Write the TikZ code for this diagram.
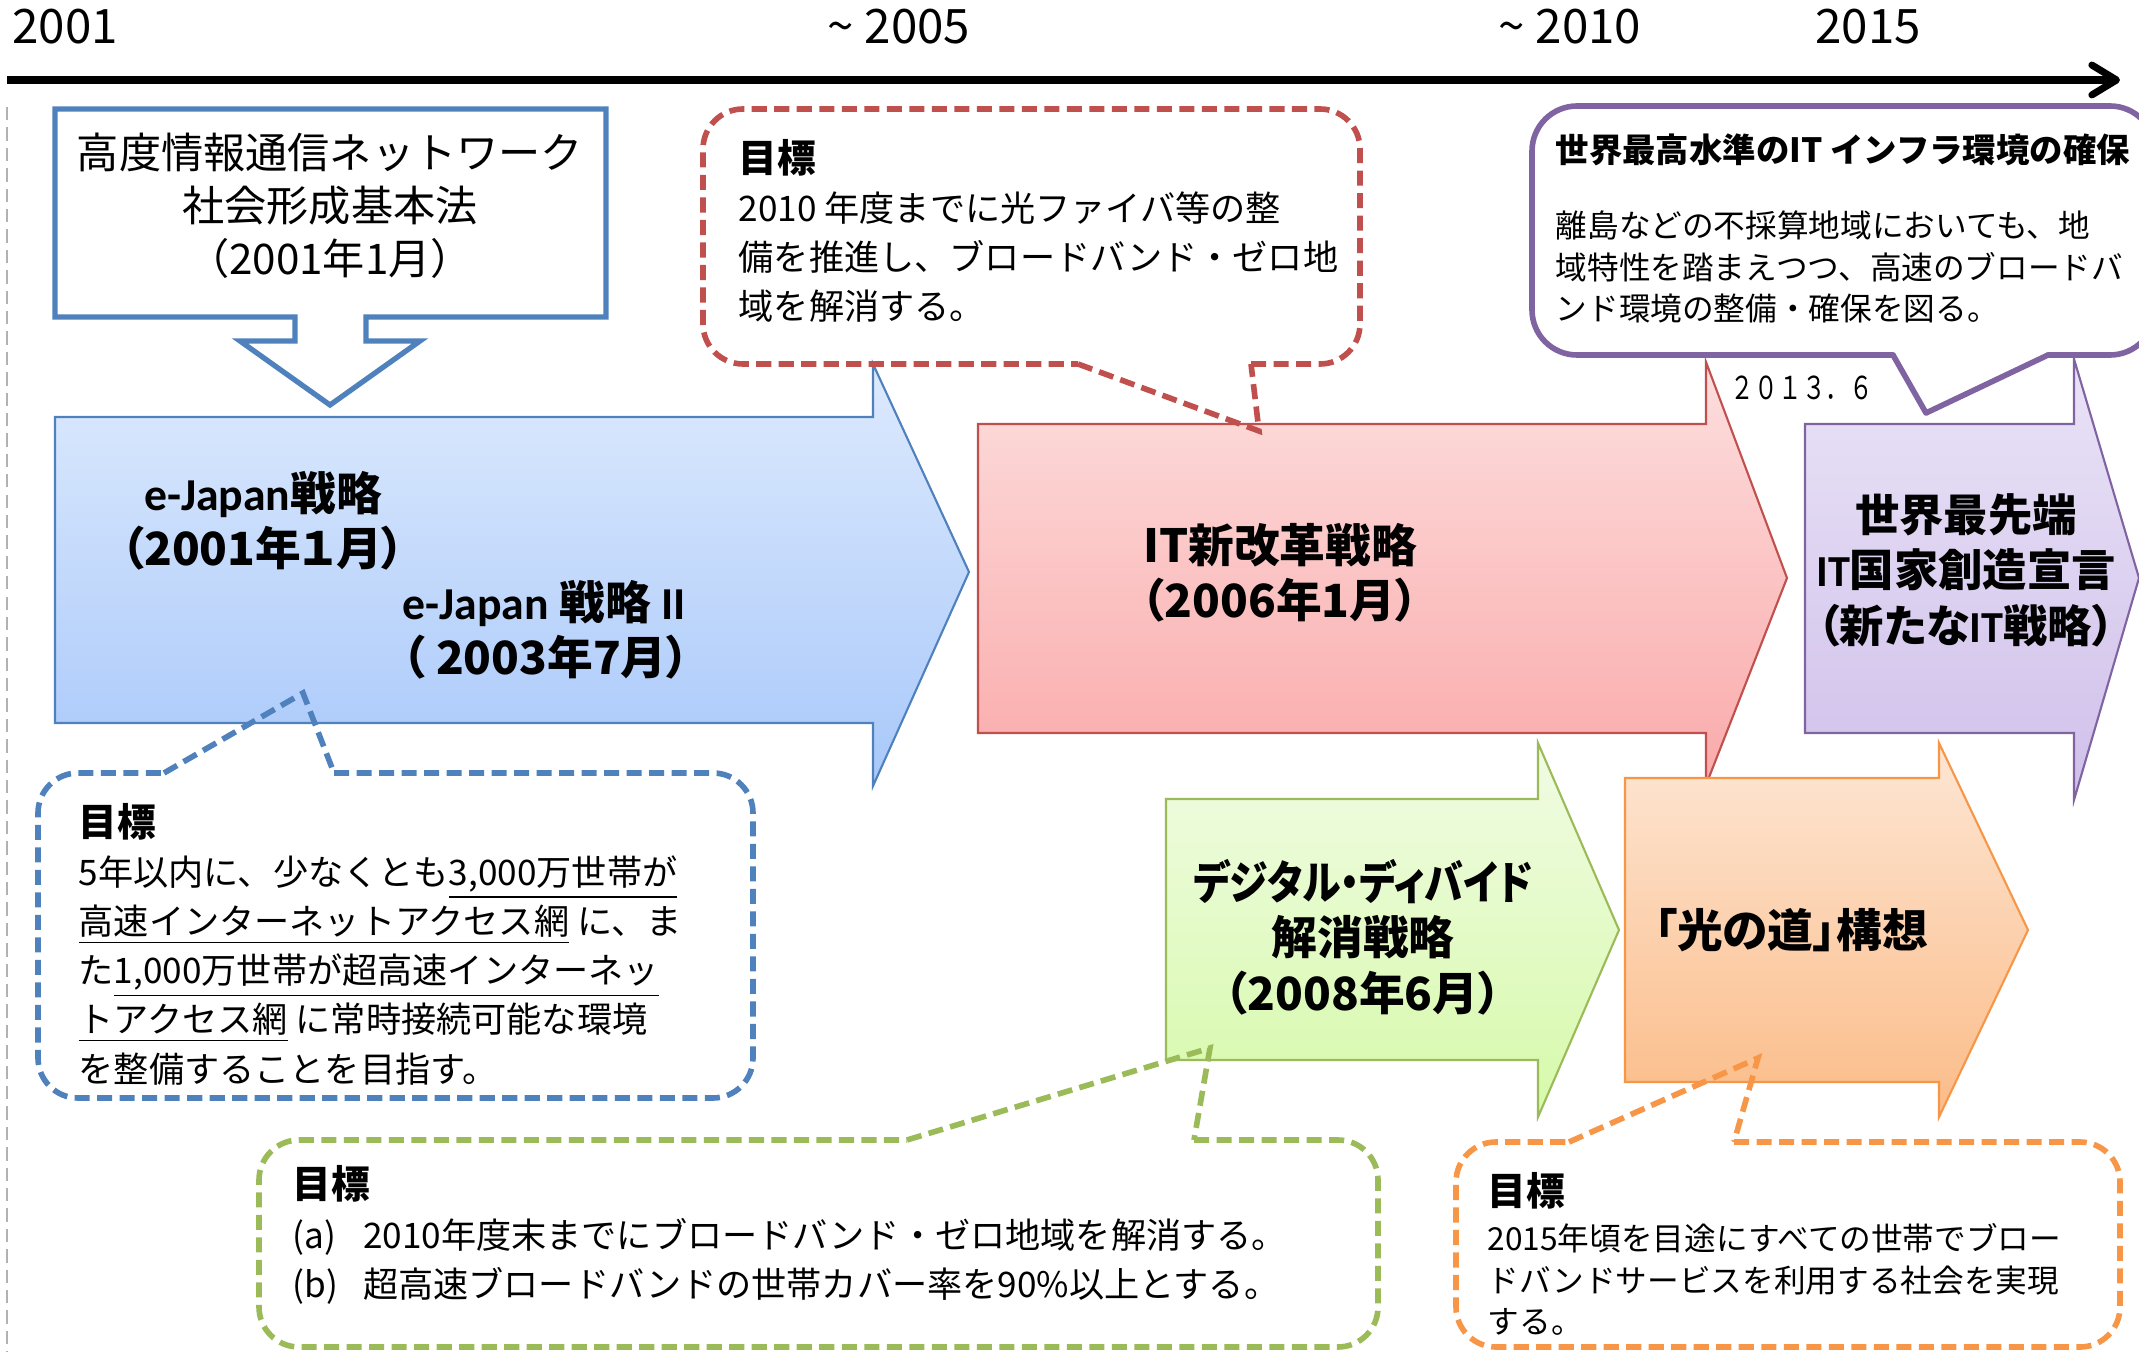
\documentclass[tikz,border=0pt]{standalone}
\usepackage{fontspec}
\setmainfont{Noto Sans CJK JP}
\newfontfamily\latinfont{Carlito}
\usetikzlibrary{arrows.meta}
\definecolor{jp-blue}{RGB}{79,129,189}
\definecolor{jp-red}{RGB}{192,80,77}
\definecolor{jp-green}{RGB}{155,187,89}
\definecolor{jp-orange}{RGB}{247,150,70}
\definecolor{jp-purple}{RGB}{128,100,162}
\newcommand{\goalhead}{{\fontsize{11}{14}\selectfont\bfseries 目標}}

\begin{document}
\begin{tikzpicture}[x=0.01cm, y=-0.01cm,
    year/.style={font=\fontsize{13.5}{16}\selectfont, inner sep=0pt},
    law-text/.style={font=\fontsize{12}{15}\selectfont, align=center, inner sep=0pt},
    plan-arrow/.style={line width=0.6pt, line join=miter},
    plan-title/.style={font=\fontsize{13}{15.8}\selectfont\bfseries\addfontfeatures{RawFeature=+palt}, inner sep=0pt},
    goal-line/.style={line width=1.6pt, dash pattern=on 4.3pt off 2.1pt},
    goal-text/.style={font=\fontsize{10}{14}\selectfont, align=left, anchor=west, inner sep=0pt},
    goal-small/.style={font=\fontsize{9}{11.8}\selectfont, align=left, anchor=west, inner sep=0pt}
  ]
  \useasboundingbox (0,0) rectangle (2139,1352);

  \coordinate (guide-top) at (7,107);
  \coordinate (guide-bottom) at (7,1352);
  \draw[gray!60, line width=0.5pt, dash pattern=on 3.8pt off 2pt] (guide-top) -- (guide-bottom);

  \coordinate (line-start) at (7,80);
  \coordinate (line-end) at (2120,80);
  \draw[line width=2pt, -{Straight Barb[length=7pt,width=8.5pt,round]}] (line-start) -- (line-end);

  \node[year] (year-2001) at (65,27) {2001};
  \node[year] (year-2005) at (899,27) {\textasciitilde\ 2005};
  \node[year] (year-2010) at (1570,27) {\textasciitilde\ 2010};
  \node[year] (year-2015) at (1868,27) {2015};

  \draw[jp-blue, line width=1.5pt, fill=white]
    (55,109) -- (606,109) -- (606,317) -- (366,317) -- (366,341) -- (420,341)
    -- (330,405) -- (240,341) -- (295,341) -- (295,317) -- (55,317) -- cycle;
  \node[law-text] (law-text) at (330,206)
    {高度情報通信ネットワーク\\社会形成基本法\\（2001年1月）};

  \path[plan-arrow, draw=jp-blue, top color={rgb,255:red,221;green,234;blue,253}, bottom color={rgb,255:red,168;green,200;blue,250}]
    (55,417) -- (873,417) -- (873,364) -- (969,572) -- (873,786) -- (873,723) -- (55,723) -- cycle;
  \path[plan-arrow, draw=jp-red, top color={rgb,255:red,253;green,222;blue,222}, bottom color={rgb,255:red,250;green,170;blue,170}]
    (978,424) -- (1706,424) -- (1706,362) -- (1787,578) -- (1706,785) -- (1706,733) -- (978,733) -- cycle;
  \path[plan-arrow, draw=jp-purple, top color={rgb,255:red,233;green,227;blue,247}, bottom color={rgb,255:red,208;green,192;blue,234}]
    (1805,424) -- (2074,424) -- (2074,359) -- (2139,578) -- (2074,800) -- (2074,733) -- (1805,733) -- cycle;
  \path[plan-arrow, draw=jp-green, top color={rgb,255:red,241;green,251;blue,228}, bottom color={rgb,255:red,214;green,250;blue,170}]
    (1166,799) -- (1538,799) -- (1538,743) -- (1619,930) -- (1538,1117) -- (1538,1060) -- (1166,1060) -- cycle;
  \path[plan-arrow, draw=jp-orange, top color={rgb,255:red,253;green,230;blue,212}, bottom color={rgb,255:red,251;green,188;blue,136}]
    (1625,778) -- (1939,778) -- (1939,743) -- (2028,930) -- (1939,1117) -- (1939,1082) -- (1625,1082) -- cycle;

  \draw[goal-line, jp-blue, rounded corners=0.4cm]
    (334,773) -- (753,773) -- (753,1098) -- (38,1098) -- (38,773) -- (164,773);
  \draw[goal-line, jp-blue] (164,773) -- (303,693) -- (334,773);

  \draw[goal-line, jp-red, rounded corners=0.4cm]
    (1251,364) -- (1360,364) -- (1360,109) -- (703,109) -- (703,364) -- (1078,364);
  \draw[goal-line, jp-red] (1078,364) -- (1259,431) -- (1251,364);

  \draw[goal-line, jp-green, rounded corners=0.4cm]
    (1194,1140) -- (1378,1140) -- (1378,1347) -- (259,1347) -- (259,1140) -- (907,1140);
  \draw[goal-line, jp-green] (907,1140) -- (1210,1048) -- (1194,1140);

  \draw[goal-line, jp-orange, rounded corners=0.4cm]
    (1734,1142) -- (2120,1142) -- (2120,1347) -- (1456,1347) -- (1456,1142) -- (1569,1142);
  \draw[goal-line, jp-orange] (1569,1142) -- (1758,1058) -- (1734,1142);

  \draw[jp-purple, line width=1.6pt, line join=round, line cap=round, rounded corners=0.45cm]
    (2048,355) -- (2155,355) -- (2155,106) -- (1532,106) -- (1532,355) -- (1893,355);
  \draw[jp-purple, line width=1.6pt, line join=round, line cap=round] (1893,355) -- (1926,413) -- (2048,355);

  \node[plan-title, align=center] (ejapan-title) at (263,521)
    {{\latinfont e-Japan}戦略\\（2001年１月）};
  \node[plan-title, align=left, anchor=west] (ejapan2-title) at (402,630)
    {{\latinfont e-Japan} 戦略 {\latinfont II}\\（ 2003年7月）};
  \node[plan-title, align=center] (itreform-title) at (1280,573)
    {IT新改革戦略\\（2006年1月）};
  \node[plan-title, align=center] (divide-title) at (1363,937)
    {\scalebox{0.85}[1]{デジタル・ディバイド}\\解消戦略\\（2008年6月）};
  \node[plan-title, align=center] (hikari-title) at (1791,930)
    {「光の道」構想};
  \node[plan-title, align=center, font=\fontsize{12.6}{15.8}\selectfont\bfseries\addfontfeatures{RawFeature=+palt}] (sentan-title) at (1966,570)
    {世界最先端\\{\latinfont IT}国家創造宣言\\（新たな{\latinfont IT}戦略）};

  \node[goal-text] (ejapan-goal) at (78,944)
    {\goalhead\\
     5年以内に、少なくとも\underline{3,000万世帯が}\\
     \underline{高速インターネットアクセス網} に、ま\\
     た\underline{1,000万世帯が超高速インターネッ}\\
     \underline{トアクセス網} に常時接続可能な環境\\
     を整備することを目指す。};
  \node[goal-text] (itreform-goal) at (738,231)
    {\goalhead\\
     2010 年度までに光ファイバ等の整\\
     備を推進し、ブロードバンド・ゼロ地\\
     域を解消する。};
  \node[goal-text] (divide-goal) at (292,1235)
    {\goalhead\\
     \makebox[20pt][l]{(a)}2010年度末までにブロードバンド・ゼロ地域を解消する。\\
     \makebox[20pt][l]{(b)}超高速ブロードバンドの世帯カバー率を90\%以上とする。};
  \node[goal-small] (hikari-goal) at (1487,1254)
    {\goalhead\\[1pt]
     2015年頃を目途にすべての世帯でブロー\\
     ドバンドサービスを利用する社会を実現\\
     する。};
  \node[goal-small, font=\fontsize{9.5}{11.8}\selectfont\bfseries] (sentan-head) at (1555,150)
    {世界最高水準のIT インフラ環境の確保};
  \node[goal-small] (sentan-goal) at (1555,267)
    {離島などの不採算地域においても、地\\
     域特性を踏まえつつ、高速のブロードバ\\
     ンド環境の整備・確保を図る。};
  \node[inner sep=0pt, font=\fontsize{9}{11}\selectfont] (date-label) at (1802,388)
    {\scalebox{0.75}[1]{２０１３．６}};
\end{tikzpicture}
\end{document}
